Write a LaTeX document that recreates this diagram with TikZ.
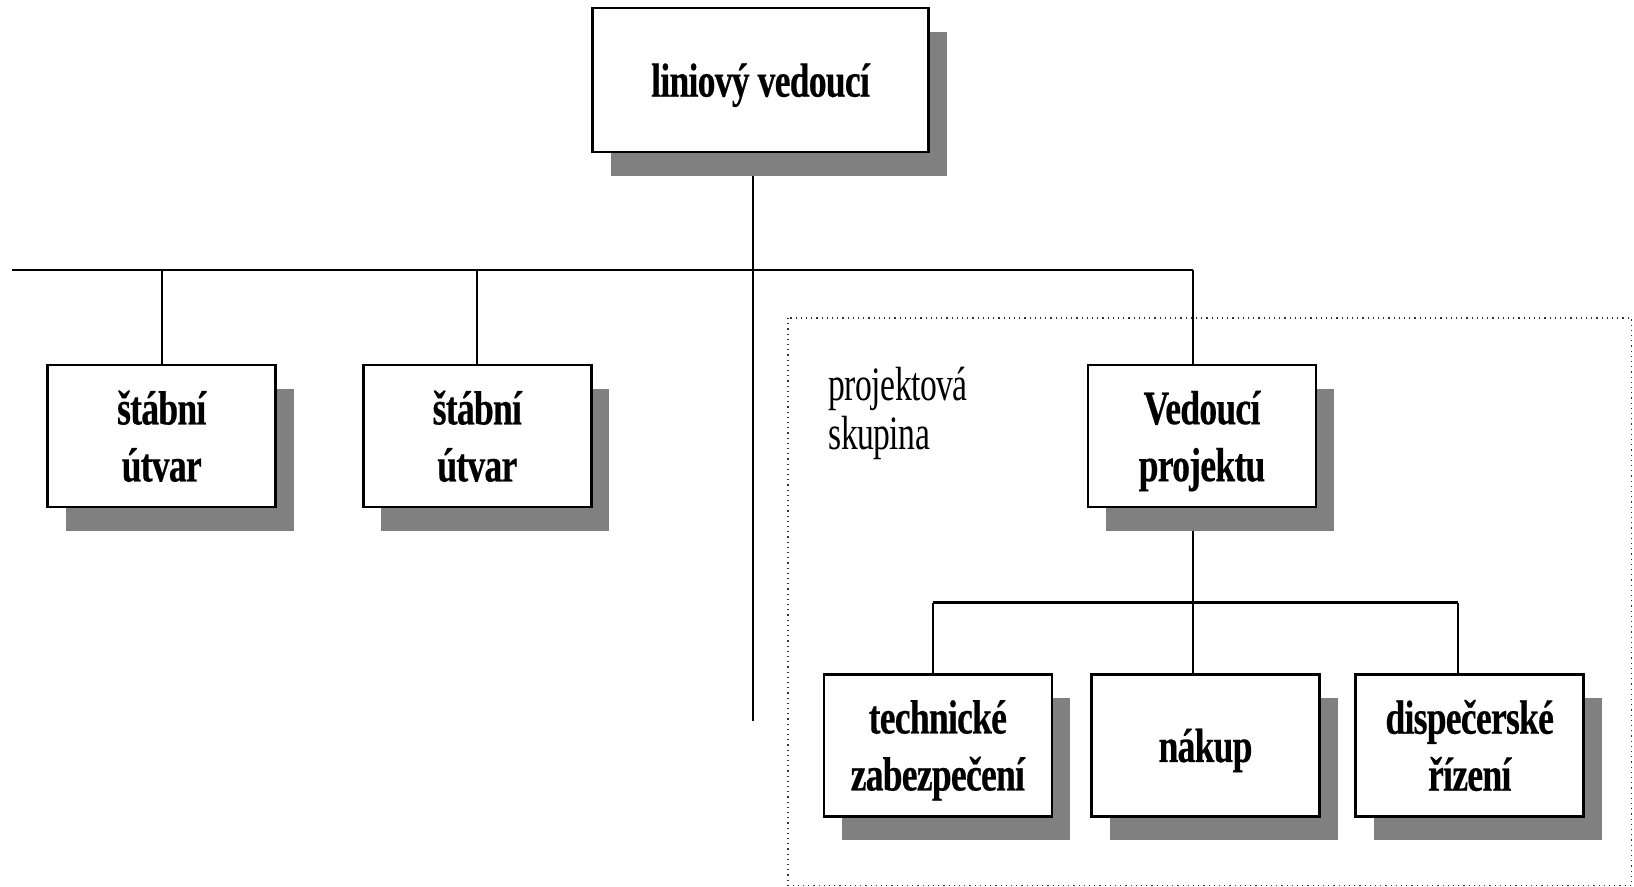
\documentclass[tikz,border=0pt]{standalone}
\usepackage{fontspec}
\usetikzlibrary{shadows}
\newfontfamily\condbf{Liberation Serif Bold}[FakeStretch=0.74, FakeBold=0.4, LetterSpace=-1.5]
\newfontfamily\condrm{Liberation Serif}[FakeStretch=0.70, LetterSpace=-1]
\definecolor{shadowgray}{RGB}{128,128,128}
\pgfdeclarelayer{bg}
\pgfsetlayers{bg,main}
\tikzset{
  orgbox/.style={draw=black, line width=1.3pt, fill=white, inner sep=0pt,
    minimum width=114pt, minimum height=71pt, align=center, text depth=0pt,
    font=\condbf\fontsize{24pt}{28.5pt}\selectfont,
    drop shadow={shadow xshift=9pt, shadow yshift=-12pt, fill=shadowgray, opacity=1}},
  conn/.style={draw=black, line width=1pt},
  busline/.style={draw=black, line width=1.3pt},
  groupframe/.style={draw=black!80, line width=0.6pt, dotted},
  grouplabel/.style={font=\condrm\fontsize{24pt}{24.5pt}\selectfont, align=left, inner sep=0pt}
}
\begin{document}
\begin{tikzpicture}[x=0.5pt, y=-0.5pt]
\useasboundingbox (0,0) rectangle (1634,887);

% group frame
\draw[groupframe] (788,318) rectangle (1631.5,885.5);
\node[grouplabel, anchor=base west] (lbl) at (828,450) {projektová\\skupina};

% nodes
\node[orgbox, minimum width=168pt, minimum height=72pt] (top) at (760.5,80) {liniový vedoucí};
\node[orgbox] (s1) at (161.7,436) {štábní\\útvar};
\node[orgbox] (s2) at (477.3,436) {štábní\\útvar};
\node[orgbox] (vp) at (1202,436) {Vedoucí\\projektu};
\node[orgbox] (tech) at (937.8,745.3) {technické\\zabezpečení};
\node[orgbox] (nakup) at (1205.5,745.3) {nákup};
\node[orgbox] (disp) at (1469.7,745.3) {dispečerské\\řízení};

% coordinates
\coordinate (tx) at (752.7,0);
\coordinate (trunkend) at (752.7,721);
\coordinate (hl) at (11.7,270);
\coordinate (hr) at (1193.3,270);
\coordinate (bl) at (932.7,602.5);
\coordinate (br) at (1457.7,602.5);

\begin{pgfonlayer}{bg}
\draw[conn] (top.south -| tx) -- (trunkend);
\draw[busline] (hl) -- (hr);
\draw[conn] (s1.north |- hl) -- (s1.north);
\draw[conn] (s2.north |- hl) -- (s2.north);
\draw[conn] (hr) -- (hr |- vp.north);
\draw[conn] (hr |- vp.south) -- (hr |- bl);
\draw[busline] (bl) -- (br);
\draw[conn] (bl) -- (bl |- tech.north);
\draw[conn] (br) -- (br |- disp.north);
\draw[conn] (hr |- bl) -- (hr |- nakup.north);
\end{pgfonlayer}
\end{tikzpicture}
\end{document}
